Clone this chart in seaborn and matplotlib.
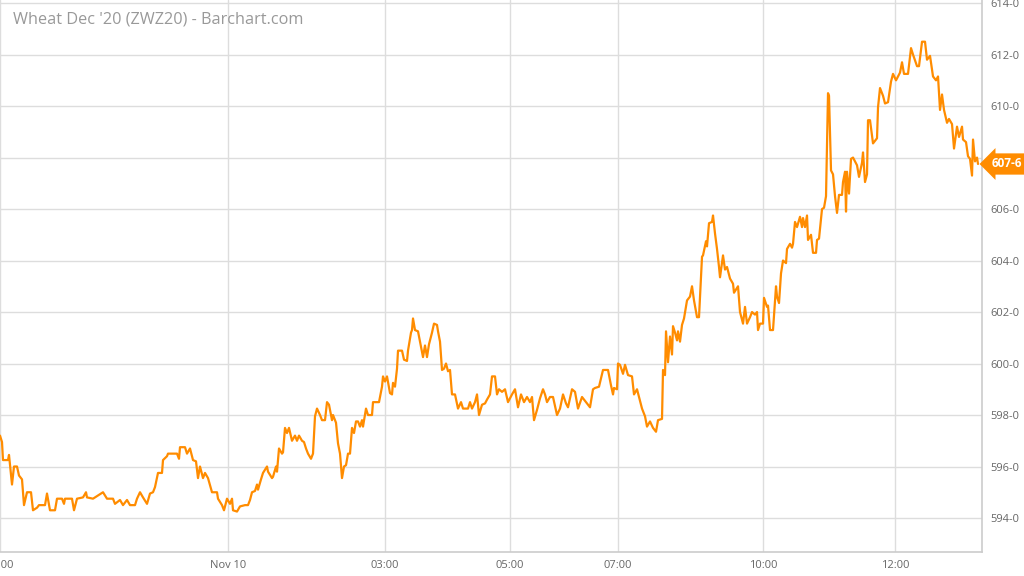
import matplotlib
matplotlib.use("Agg")
import matplotlib.pyplot as plt
import seaborn as sns

# session chart: x is the bar number on Barchart's intraday axis
bars = [0, 2, 3, 8, 9, 12, 14, 17, 19, 22, 24, 27, 31, 33, 37, 39, 45, 47, 50, 55,
        57, 62, 64, 65, 72, 74, 77, 83, 86, 87, 93, 103, 107, 113, 115, 120, 123, 127, 130, 135,
        137, 140, 143, 147, 150, 153, 155, 158, 162, 163, 167, 168, 177, 179, 180, 185, 187, 190, 193, 196,
        198, 200, 203, 205, 208, 212, 217, 218, 222, 224, 227, 230, 232, 233, 237, 240, 245, 248,
        250, 252, 255, 257, 258, 261, 263, 267, 268, 272, 273, 276, 277, 279, 282, 283, 285, 287, 289, 292,
        295, 297, 299, 302, 304, 306, 308, 311, 313, 315, 317, 320, 322, 325, 327, 329, 332, 333, 336, 338,
        340, 342, 344, 346, 348, 350, 352, 354, 356, 358, 360, 362, 363, 366, 368, 372, 373, 379, 382, 383,
        385, 387, 390, 392, 393, 395, 397, 398, 402, 404, 407, 408, 411, 412, 413, 415, 418, 422, 423, 425,
        427, 429, 432, 434, 437, 438, 440, 442, 444, 446, 448, 450, 452, 455, 458, 461, 463, 468, 470, 472,
        475, 477, 479, 482, 485, 487, 490, 492, 495, 497, 499, 502, 505, 508, 512, 515, 518, 521, 524, 527,
        530, 532, 534, 537, 540, 543, 545, 547, 550, 553, 557, 560, 563, 566, 568, 572, 575, 578, 582, 585,
        590, 593, 595, 599, 603, 608, 611, 613, 614, 617, 618, 620, 623, 625, 628, 632, 634, 637, 639, 642,
        645, 647, 650, 653, 656, 658, 662, 663, 665, 666, 668, 670, 672, 673, 675, 677, 678, 680, 682, 684,
        687, 690, 692, 694, 697, 699, 702, 703, 706, 707, 709, 712, 713, 715, 717, 719,
        720, 723, 725, 727, 730, 733, 734, 738, 740, 743, 745, 747, 750, 752, 755, 757, 758, 760, 763, 764,
        767, 768, 770, 773, 776, 777, 779, 781, 783, 786, 787, 790, 792, 793, 795, 797, 800, 802, 803, 805,
        807, 808, 811, 813, 816, 817, 819, 822, 824, 826, 828, 829, 831, 833, 835, 837, 839, 842, 843, 845,
        846, 847, 849, 851, 853, 857, 859, 862, 863, 865, 867, 868, 870, 873, 877, 878, 880, 883, 885, 888,
        891, 893, 896, 900, 902, 904, 908, 911, 913, 917, 919, 922, 925, 927, 930, 933, 936, 938, 940, 942,
        944, 947, 949, 952, 954, 957, 959, 962, 963, 966, 968, 970, 972, 973, 975, 977, 978]

prices = [597.2, 596.95, 596.25, 596.25, 596.45, 595.3, 596.0, 596.0, 595.65, 595.5,
          594.5, 595.0, 595.0, 594.3, 594.4, 594.5, 594.5, 594.95, 594.3, 594.3,
          594.75, 594.75, 594.55, 594.75, 594.75, 594.3, 594.75, 594.8, 595.0, 594.8,
          594.75, 595.0, 594.75, 594.75, 594.55, 594.7, 594.5, 594.7, 594.5, 594.5,
          594.75, 595.0, 594.8, 594.55, 594.95, 595.0, 595.2, 595.75, 595.75, 596.25,
          596.4, 596.5, 596.5, 596.3, 596.75, 596.75, 596.5, 596.7, 596.25, 596.2,
          595.55, 596.0, 595.55, 595.75, 595.55, 595.0, 595.0, 594.75, 594.5, 594.3,
          594.75, 594.55, 594.75, 594.3, 594.25, 594.45, 594.5, 594.5,
          594.7, 595.0, 595.05, 595.3, 595.1, 595.5, 595.75, 596.0, 595.8, 595.55,
          595.6, 596.0, 595.8, 596.7, 596.5, 596.55, 597.5, 597.3, 597.5, 597.0,
          597.2, 597.0, 597.2, 597.0, 596.95, 596.7, 596.5, 596.3, 596.5, 597.95,
          598.25, 598.0, 597.8, 597.8, 598.5, 598.4, 597.8, 598.0, 597.7, 596.9,
          596.5, 595.55, 596.0, 596.05, 596.5, 596.5, 597.5, 597.3, 597.75, 597.75,
          597.55, 597.8, 597.55, 598.25, 598.0, 598.0, 598.5, 598.5, 599.1, 599.5,
          599.3, 599.5, 598.85, 598.8, 599.25, 599.1, 599.8, 600.5, 600.5, 600.15,
          600.1, 600.5, 601.2, 601.3, 601.75, 601.3, 601.25, 600.45, 600.25, 600.7,
          600.25, 600.75, 601.2, 601.55, 601.5, 601.25, 600.85, 599.75, 599.8, 600.0,
          599.7, 599.75, 598.8, 598.8, 598.25, 598.5, 598.25, 598.25, 598.5, 598.25,
          598.5, 598.8, 598.0, 598.4, 598.45, 598.6, 598.8, 599.5, 599.5, 598.8,
          599.0, 598.9, 599.0, 598.5, 598.8, 599.0, 598.3, 598.8, 598.5, 598.7,
          598.5, 598.7, 597.8, 598.2, 598.65, 599.0, 598.8, 598.5, 598.7, 598.7,
          598.0, 598.25, 598.8, 598.45, 598.3, 599.0, 598.9, 598.25, 598.7, 598.55,
          598.3, 599.0, 599.05, 599.1, 599.75, 599.75, 599.15, 598.8, 599.05, 599.0,
          600.0, 599.95, 599.6, 599.95, 599.55, 599.5, 598.8, 599.0, 598.7, 598.25,
          597.95, 597.55, 597.75, 597.5, 597.35, 597.8, 597.85, 599.75, 599.55, 601.25,
          600.05, 601.05, 600.35, 601.45, 601.2, 600.9, 601.25, 600.85, 601.5, 601.75,
          602.45, 602.6, 603.0, 602.45, 601.8, 601.8, 604.15, 604.2, 604.75, 604.55,
          605.45, 605.5, 605.75, 605.05, 604.45, 603.75,
          603.35, 604.2, 603.65, 603.75, 603.3, 603.1, 602.75, 603.0, 602.0, 601.55,
          602.2, 601.55, 601.8, 602.0, 601.9, 602.0, 601.3, 601.55, 601.55, 602.55,
          602.2, 602.25, 601.3, 601.3, 603.0, 602.6, 602.35, 603.5, 604.0, 603.9,
          604.45, 604.65, 604.5, 604.65, 605.5, 605.3, 605.7, 605.3, 605.65, 605.3,
          605.75, 604.8, 605.0, 604.3, 604.3, 604.8, 604.85, 606.0, 606.05, 606.5,
          610.5, 610.4, 607.5, 607.35, 606.5, 605.85, 606.55, 606.55, 607.05, 607.45,
          605.9, 607.45, 606.6, 607.95, 608.0, 607.7, 607.25, 607.8, 608.2, 607.05,
          607.35, 609.45, 609.45, 608.55, 608.75, 609.95, 610.7, 610.4, 610.1, 610.15,
          610.95, 611.25, 611.0, 611.3, 611.7, 611.25, 611.25, 612.25, 612.0, 611.55,
          611.55, 612.5, 612.5, 611.8, 611.95, 611.15, 611.0, 611.15, 609.85, 610.45,
          609.85, 609.35, 609.5, 609.3, 608.35, 609.2, 608.8, 609.2, 608.7, 608.6,
          608.05, 607.95, 607.3, 608.7, 607.85, 608.0, 607.75]

tick_bars = [0, 228, 385, 510, 618, 763, 895]
tick_labels = ["21:00", "Nov 10", "03:00", "05:00", "07:00", "10:00", "12:00"]
price_ticks = [594, 596, 598, 600, 602, 604, 606, 608, 610, 612, 614]
last_label = "607-6"

title = "Wheat Dec '20 (ZWZ20) - Barchart.com"
line_color = "#ff8c00"

sns.set_style("white")
plt.rcParams['font.family'] = ['Open Sans', 'DejaVu Sans']

fig = plt.figure(figsize=(10.24, 5.76), dpi=100)
ax = fig.add_axes([0.0, 0.0417, 0.959, 0.9583])

sns.lineplot(x=bars, y=prices, ax=ax, color=line_color, linewidth=1.6, estimator=None)

ax.set_xlim(0, 982)
ax.set_ylim(592.68, 614.12)

ax.set_xticks(tick_bars)
ax.set_xticklabels(tick_labels)
ax.set_yticks(price_ticks)
ax.set_yticklabels([f"{p}-0" for p in price_ticks])
ax.yaxis.tick_right()
ax.tick_params(axis='both', length=0, labelsize=8, colors='#666666')
ax.tick_params(axis='x', pad=6)
ax.tick_params(axis='y', pad=6)

ax.grid(True, color='#dddddd', linewidth=1)
for side in ['top', 'left']:
    ax.spines[side].set_visible(False)
for side in ['right', 'bottom']:
    ax.spines[side].set_color('#cccccc')
    ax.spines[side].set_linewidth(1.2)

fig.text(0.013, 0.967, title, fontsize=11.7, color='#999999', va='center', ha='left')

# last price badge on the right axis
ax.text(1.0095, prices[-1], last_label, transform=ax.get_yaxis_transform(),
        fontsize=8.5, fontweight='bold', color='white', va='center', ha='left', zorder=5,
        bbox=dict(boxstyle='larrow,pad=0.35', fc=line_color, ec='none'), clip_on=False)

fig.savefig("out.png", dpi=100)
